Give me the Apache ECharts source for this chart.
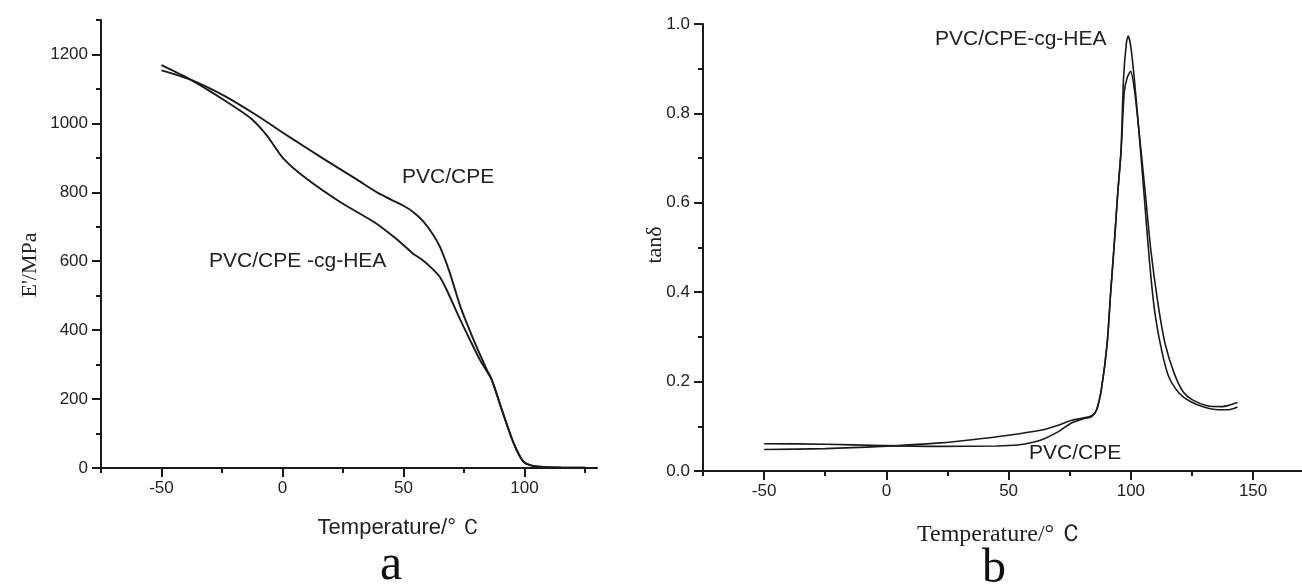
<!DOCTYPE html>
<html><head><meta charset="utf-8">
<script src="https://cdn.jsdelivr.net/npm/echarts@6/dist/echarts.min.js"></script>
<style>html,body{margin:0;padding:0;background:#fff}#c{width:1302px;height:584px}</style>
</head><body><div id="c"></div>
<script>
// ---- Panel a: storage modulus ----
const aTempPVC = [-50,-38,-24,-11,3,17,31,40,50,54,58,62,65,69,73.5,79,84.5,86.5,91,95.5,99.5,103,108,115,125];
const aModPVC  = [1154,1127,1080,1025,960,897,836,796,761,743,717,680,643,570,469,372,285,256,162,73,19,7,3,1.5,1];
const aTempHEA = [-50,-38,-24,-13,-6.5,0.5,10,24,38,47,54,58,62,65,68,73.5,77.5,81.6,86.5,91,95.5,99.5,103,108,115,125];
const aModHEA  = [1169,1127,1067,1014,965,897,839,771,713,665,622,603,578,555,515,430,372,314,256,162,73,19,7,3,1.5,1];
const aXMajor = [-50,0,50,100];
const aXMinor = [-75,-25,25,75,125];
const aYMajor = [0,200,400,600,800,1000,1200];
const aYMinor = [100,300,500,700,900,1100,1300];

// ---- Panel b: tan delta ----
const bTempPVC = [-50,-25,-2,22,45,50,56,63,70,75.5,80,84,86,88,90.3,91.7,93.2,94.6,96,97.3,98.5,99.9,101.4,103.2,105.7,108.2,111.1,114,117.7,121.3,125.6,131.3,137.1,140.7,143.6];
const bTanPVC  = [0.061,0.060,0.057,0.055,0.056,0.057,0.060,0.069,0.087,0.107,0.116,0.122,0.137,0.185,0.285,0.396,0.507,0.619,0.715,0.848,0.88,0.894,0.856,0.767,0.633,0.493,0.374,0.285,0.219,0.178,0.158,0.146,0.144,0.148,0.153];
const bTempHEA = [-50,-25,-2,22,35,50,63,70,75.5,80,84,86,88,90.3,91.7,93.2,94.6,96,97,98.2,98.9,99.9,101.4,103.2,105.4,107.6,109.7,112.6,115.5,119.8,124.1,129.9,135.7,140,143.6];
const bTanHEA  = [0.048,0.050,0.055,0.063,0.070,0.080,0.091,0.102,0.113,0.118,0.124,0.137,0.185,0.285,0.396,0.507,0.619,0.72,0.878,0.959,0.973,0.952,0.878,0.767,0.619,0.47,0.359,0.27,0.211,0.174,0.156,0.143,0.137,0.137,0.143];
const bXMajor = [-50,0,50,100,150];
const bXMinor = [-75,-25,25,75,125];
const bYMajor = [0,0.2,0.4,0.6,0.8,1.0];
const bYMinor = [0.1,0.3,0.5,0.7,0.9];

const INK = '#1a1a1a';
const SANS = 'Liberation Sans, Arial, sans-serif';
const SERIF = 'Liberation Serif, Times New Roman, serif';

function zip(xs, ys){ return xs.map((x,i)=>[x, ys[i]]); }

function mainAxis(grid, pos, min, max, major, fmt){
  return {
    type:'value', gridIndex:grid, position:pos, min:min, max:max,
    splitLine:{show:false},
    axisLine:{show:true, onZero:false, lineStyle:{color:INK, width:2}},
    axisTick:{show:true, customValues:major, length:9, lineStyle:{color:INK, width:2}},
    axisLabel:{show:true, customValues:major, color:'#222', fontFamily:SANS, fontSize:17,
               margin: pos==='left' ? 13 : 12,
               formatter: fmt || (v=>String(v))}
  };
}
function minorAxis(grid, pos, min, max, minor){
  return {
    type:'value', gridIndex:grid, position:pos, min:min, max:max,
    splitLine:{show:false},
    axisLine:{show:false, onZero:false},
    axisTick:{show:true, customValues:minor, length:5, lineStyle:{color:INK, width:2}},
    axisLabel:{show:false}
  };
}
function lineSeries(xi, yi, data, w){
  return {type:'line', xAxisIndex:xi, yAxisIndex:yi, data:data, showSymbol:false,
          smooth:0.25, lineStyle:{color:INK, width:w}, silent:true};
}

const chart = echarts.init(document.getElementById('c'), null, {renderer:'canvas'});
chart.setOption({
  animation:false,
  backgroundColor:'#fff',
  grid:[
    {left:101, top:20, width:496, height:448},
    {left:703, top:24, width:599, height:447}
  ],
  xAxis:[
    mainAxis(0,'bottom',-75,130,aXMajor),
    minorAxis(0,'bottom',-75,130,aXMinor),
    mainAxis(1,'bottom',-75,170,bXMajor),
    minorAxis(1,'bottom',-75,170,bXMinor)
  ],
  yAxis:[
    mainAxis(0,'left',0,1300,aYMajor),
    minorAxis(0,'left',0,1300,aYMinor),
    mainAxis(1,'left',0,1.0,bYMajor, v=>v.toFixed(1)),
    minorAxis(1,'left',0,1.0,bYMinor)
  ],
  series:[
    lineSeries(0,0,zip(aTempPVC,aModPVC),1.9),
    lineSeries(0,0,zip(aTempHEA,aModHEA),1.9),
    lineSeries(2,2,zip(bTempPVC,bTanPVC),1.6),
    lineSeries(2,2,zip(bTempHEA,bTanHEA),1.6)
  ],
  graphic:[
    {type:'text', left:402, top:167, style:{text:'PVC/CPE', font:'21px '+SANS, fill:'#222'}},
    {type:'text', left:209, top:251, style:{text:'PVC/CPE -cg-HEA', font:'21px '+SANS, fill:'#222'}},
    {type:'text', left:935, top:29, style:{text:'PVC/CPE-cg-HEA', font:'21px '+SANS, fill:'#222'}},
    {type:'text', left:1029, top:443, style:{text:'PVC/CPE', font:'21px '+SANS, fill:'#222'}},
    {type:'text', x:400, y:528, style:{text:'Temperature/°\u2009Ｃ', font:'22px '+SANS, fill:'#222', textAlign:'center', textVerticalAlign:'middle'}},
    {type:'text', x:1000, y:535, style:{text:'Temperature/°\u2009Ｃ', font:'24px '+SERIF, fill:'#222', textAlign:'center', textVerticalAlign:'middle'}},
    {type:'text', x:30, y:265, rotation:Math.PI/2, style:{text:"E'/MPa", font:'22px '+SERIF, fill:'#222', textAlign:'center', textVerticalAlign:'middle'}},
    {type:'text', x:655, y:245, rotation:Math.PI/2, style:{text:'tanδ', font:'22px '+SERIF, fill:'#222', textAlign:'center', textVerticalAlign:'middle'}},
    {type:'text', x:391, y:566, style:{text:'a', font:'50px '+SERIF, fill:'#111', textAlign:'center', textVerticalAlign:'middle'}},
    {type:'text', x:994, y:569, style:{text:'b', font:'48px '+SERIF, fill:'#111', textAlign:'center', textVerticalAlign:'middle'}}
  ]
});
</script>
</body></html>
